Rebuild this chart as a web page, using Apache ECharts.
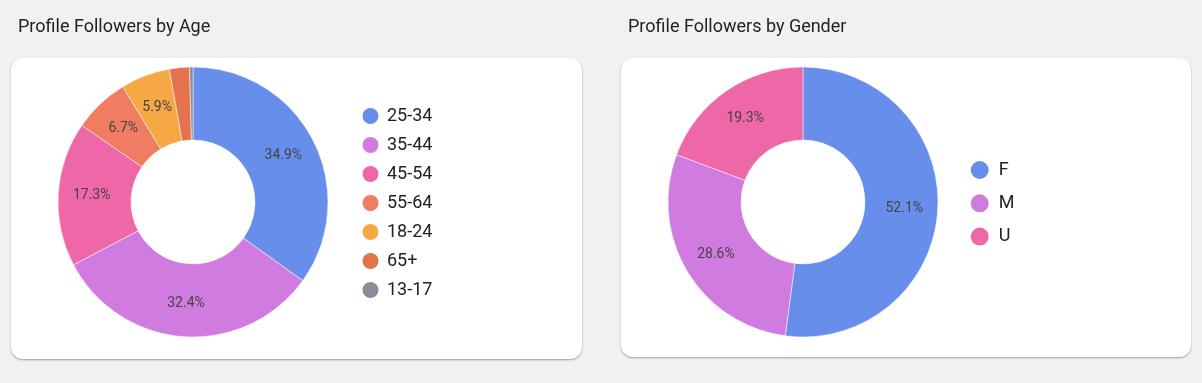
<!DOCTYPE html>
<html>
<head>
<meta charset="utf-8">
<script src="https://cdn.jsdelivr.net/npm/echarts@6/dist/echarts.min.js"></script>
<style>
  html, body { margin: 0; padding: 0; background: #f1f1f1; width: 1202px; height: 383px; overflow: hidden; }
  .card { position: absolute; background: #fff; border-radius: 12px; box-shadow: 0 1px 2px rgba(0,0,0,0.35); }
  #chart { position: absolute; left: 0; top: 0; width: 1202px; height: 383px; }
</style>
</head>
<body>
<div class="card" style="left:11px;top:58px;width:571px;height:301px;"></div>
<div class="card" style="left:621px;top:58px;width:570px;height:299px;"></div>
<div id="chart"></div>
<script>
// Data
var ageCategories = ['25-34', '35-44', '45-54', '55-64', '18-24', '65+', '13-17'];
var ageValues = [34.9, 32.4, 17.3, 6.7, 5.9, 2.4, 0.4];
var ageColors = ['#678EEB', '#CF7BDF', '#EE67A7', '#F07C61', '#F6A844', '#E3734C', '#898F96'];

var genderCategories = ['F', 'M', 'U'];
var genderValues = [52.1, 28.6, 19.3];
var genderColors = ['#678EEB', '#CF7BDF', '#EE67A7'];

var titles = ['Profile Followers by Age', 'Profile Followers by Gender'];

function toData(cats, vals, cols) {
  return cats.map(function (c, i) {
    return { name: c, value: vals[i], itemStyle: { color: cols[i] } };
  });
}

var chart = echarts.init(document.getElementById('chart'), null, { renderer: 'canvas' });
var font = 'Roboto, "Noto Sans", sans-serif';

var pieCommon = {
  type: 'pie',
  radius: [62, 135],
  startAngle: 90,
  clockwise: true,
  avoidLabelOverlap: false,
  minShowLabelAngle: 15,
  label: {
    show: true,
    position: 'inside',
    formatter: '{d}%',
    color: '#444',
    fontSize: 14,
    fontFamily: font
  },
  labelLine: { show: false },
  itemStyle: { borderColor: '#ffffff', borderWidth: 0.5 },
  emphasis: { disabled: true },
  silent: true
};

chart.setOption({
  animation: false,
  backgroundColor: 'transparent',
  title: [
    { text: titles[0], left: 18, top: 18, padding: 0,
      textStyle: { fontFamily: font, fontSize: 18, fontWeight: 'normal', color: '#222' } },
    { text: titles[1], left: 628, top: 18, padding: 0,
      textStyle: { fontFamily: font, fontSize: 18, fontWeight: 'normal', color: '#222' } }
  ],
  legend: [
    {
      data: ageCategories,
      orient: 'vertical',
      left: 360.5, top: 106,
      padding: 0,
      icon: 'circle',
      itemWidth: 23, itemHeight: 18, itemGap: 9,
      textStyle: { fontFamily: font, fontSize: 18, color: '#222' },
      selectedMode: false
    },
    {
      data: genderCategories,
      orient: 'vertical',
      left: 968.7, top: 159,
      padding: 0,
      icon: 'circle',
      itemWidth: 28, itemHeight: 20, itemGap: 11.3,
      textStyle: { fontFamily: font, fontSize: 18, color: '#222' },
      selectedMode: false
    }
  ],
  series: [
    Object.assign({}, pieCommon, {
      name: 'Age',
      center: [193, 202],
      data: toData(ageCategories, ageValues, ageColors)
    }),
    Object.assign({}, pieCommon, {
      name: 'Gender',
      center: [803, 202],
      data: toData(genderCategories, genderValues, genderColors)
    })
  ]
});
</script>
</body>
</html>
